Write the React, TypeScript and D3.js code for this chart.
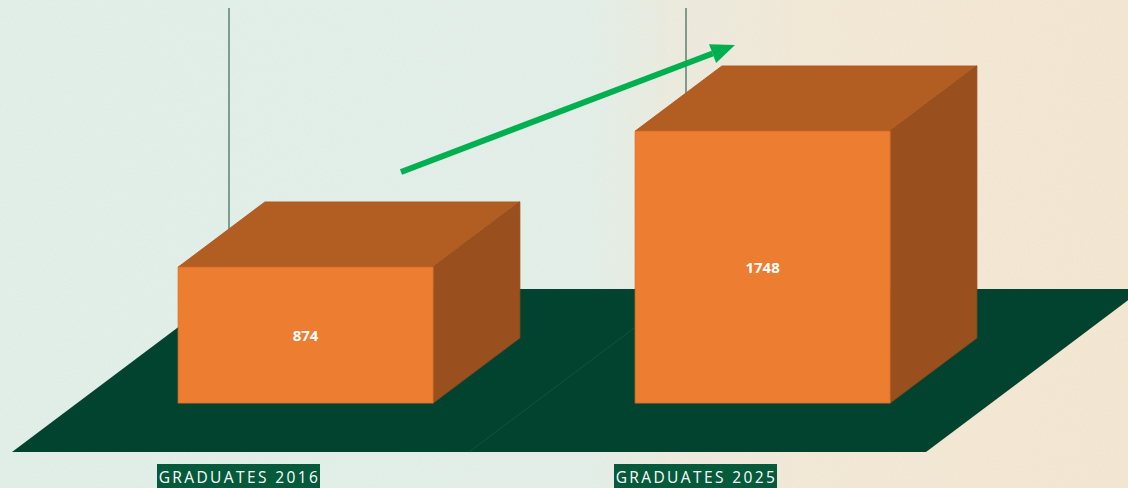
import React from "react";
import * as d3 from "d3";

const categories = ["GRADUATES 2016", "GRADUATES 2025"];
const values = [874, 1748];
const valueLabels = ["874", "1748"];

const W = 1128;
const H = 488;
// floor projection
const baseY = 452;
const DX = 217;
const DY = 163;
const d0 = 0.3;
const d1 = 0.7;

const proj = (u: number, d: number, h: number): [number, number] => [
  u + d * DX,
  baseY - d * DY - h,
];

const pts = (p: [number, number][]) => p.map(q => q.join(",")).join(" ");

const Box = ({ x0, w, h, label }) => {
  const fbl = proj(x0, d0, 0);
  const fbr = proj(x0 + w, d0, 0);
  const ftl = proj(x0, d0, h);
  const ftr = proj(x0 + w, d0, h);
  const btl = proj(x0, d1, h);
  const btr = proj(x0 + w, d1, h);
  const bbr = proj(x0 + w, d1, 0);
  return (
    <g>
      <polygon points={pts([ftl, ftr, btr, btl])} fill="#b25e22" stroke="#a85820" strokeWidth={0.8} />
      <polygon points={pts([fbr, ftr, btr, bbr])} fill="#9a501e" stroke="#8f4a1c" strokeWidth={0.8} />
      <polygon points={pts([fbl, fbr, ftr, ftl])} fill="#ed7d31" stroke="#d86f28" strokeWidth={0.8} />
      <text
        x={(fbl[0] + fbr[0]) / 2}
        y={(fbl[1] + ftl[1]) / 2}
        textAnchor="middle"
        dominantBaseline="central"
        fill="#fff"
        fontFamily="'Open Sans', sans-serif"
        fontWeight="bold"
        fontSize="15"
      >
        {label}
      </text>
    </g>
  );
};

const App = () => {
  const x = d3.scaleBand().domain(categories).range([12, 926]).padding(0);
  const y = d3.scaleLinear().domain([0, 1806]).range([0, 281]);
  const bw = x.bandwidth();
  const boxW = bw * 0.558;

  const floor = pts([proj(12, 0, 0), proj(926, 0, 0), proj(926, 1, 0), proj(12, 1, 0)]);
  const wallTop = baseY - DY - y(1806);

  // arrow
  const a0: [number, number] = [401, 172];
  const a1: [number, number] = [735, 45];
  const ang = Math.atan2(a1[1] - a0[1], a1[0] - a0[0]);
  const headL = 24;
  const headW = 10;
  const base: [number, number] = [a1[0] - headL * Math.cos(ang), a1[1] - headL * Math.sin(ang)];
  const nx = -Math.sin(ang);
  const ny = Math.cos(ang);
  const head = pts([
    a1,
    [base[0] + nx * headW, base[1] + ny * headW],
    [base[0] - nx * headW, base[1] - ny * headW],
  ]);

  return (
    <svg
      width={W}
      height={H}
      style={{ position: "absolute", left: 0, top: 0, display: "block" }}
    >
      <defs>
        <linearGradient id="bg" x1="0" x2="1" y1="0" y2="0">
          <stop offset="0" stopColor="#e0ede7" />
          <stop offset="0.52" stopColor="#e1ede6" />
          <stop offset="0.6" stopColor="#eae9dc" />
          <stop offset="0.72" stopColor="#f1e7d4" />
          <stop offset="1" stopColor="#f2e5cf" />
        </linearGradient>
        <filter id="noise" x="0" y="0" width="100%" height="100%">
          <feTurbulence type="fractalNoise" baseFrequency="0.9" numOctaves="2" seed="3" />
          <feColorMatrix type="matrix" values="0 0 0 0 1  0 0 0 0 1  0 0 0 0 1  0 0 0 0.9 -0.35" />
        </filter>
      </defs>
      <rect width={W} height={H} fill="url(#bg)" />
      <rect width={W} height={H} filter="url(#noise)" opacity={0.35} />

      {/* back wall gridlines */}
      {categories.map(c => {
        const [lx, ly] = proj(x(c), 1, 0);
        return (
          <line key={c} x1={lx} x2={lx} y1={ly} y2={wallTop} stroke="#5a8272" strokeWidth={1.5} />
        );
      })}

      <polygon points={floor} fill="#02432f" />
      {categories.slice(1).map(c => {
        const p0 = proj(x(c), 0, 0);
        const p1 = proj(x(c), 1, 0);
        return <line key={c} x1={p0[0]} y1={p0[1]} x2={p1[0]} y2={p1[1]} stroke="#0b563c" strokeWidth={1} />;
      })}

      {categories.map((c, i) => (
        <Box key={c} x0={x(c) + (bw - boxW) / 2} w={boxW} h={y(values[i])} label={valueLabels[i]} />
      ))}

      <line x1={a0[0]} y1={a0[1]} x2={base[0]} y2={base[1]} stroke="#00b050" strokeWidth={6} />
      <polygon points={head} fill="#00b050" />

      {categories.map(c => {
        const cx = x(c) + bw / 2 - 2;
        return (
          <g key={c}>
            <rect x={cx - 81.5} y={464} width={163} height={24} fill="#045a3b" />
            <text
              x={cx + 1}
              y={476.5}
              textAnchor="middle"
              dominantBaseline="central"
              fill="#fff"
              fontFamily="'Open Sans', sans-serif"
              fontSize="15.5"
              letterSpacing="2.4"
            >
              {c}
            </text>
          </g>
        );
      })}
    </svg>
  );
};

export default App;
